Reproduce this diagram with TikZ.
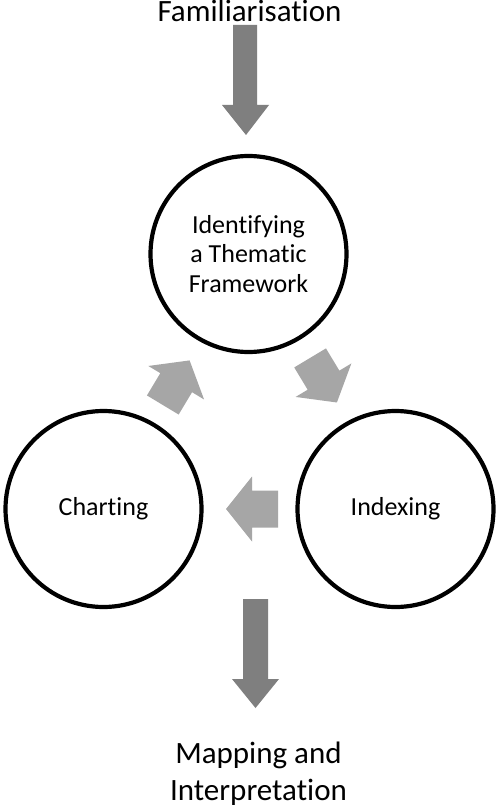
\documentclass[tikz,border=0pt]{standalone}
\usepackage{fontspec}
\setmainfont[RawFeature={-liga;-clig}]{Carlito}
\definecolor{darkarrow}{RGB}{127,127,127}
\definecolor{lightarrow}{RGB}{166,166,166}
\tikzset{
  stage/.style={circle, draw=black, line width=4.2pt, minimum size=196pt, inner sep=0pt,
    align=center, font=\fontsize{26}{29.5}\selectfont},
  outertext/.style={align=center, font=\fontsize{31}{37}\selectfont, inner sep=0pt},
  flowarrow/.style={fill=darkarrow},
  cyclearrow/.style={fill=lightarrow},
}
\begin{document}
\begin{tikzpicture}[x=1pt,y=-1pt]
\useasboundingbox[fill=white] (0,0) rectangle (497,810);

\node[outertext, anchor=base] (fam) at (249.5,22) {Familiarisation};
\node[outertext] (map) at (258.5,774) {Mapping and\\Interpretation};

\node[stage] (frame) at (248.5,254) {Identifying\\a Thematic\\Framework};
\node[stage] (chart) at (103.5,509) {Charting};
\node[stage] (index) at (395.5,509) {Indexing};

% top down arrow
\fill[flowarrow] (233,25) -- (257,25) -- (257,105) -- (269,105) -- (246,135) -- (222,105) -- (233,105) -- cycle;
% bottom down arrow
\fill[flowarrow] (243,599) -- (268,599) -- (268,679) -- (279,679) -- (255.5,708) -- (232,679) -- (243,679) -- cycle;

% cycle arrows
\foreach \cx/\cy/\ang in {252/509/180, 176.2/382.7/59, 323.5/380.2/-59}{
  \fill[cyclearrow, shift={(\cx,\cy)}, rotate=\ang]
    (-26,-18.5) -- (0,-18.5) -- (0,-32.5) -- (26,0) -- (0,32.5) -- (0,18.5) -- (-26,18.5) -- cycle;
}
\end{tikzpicture}
\end{document}
